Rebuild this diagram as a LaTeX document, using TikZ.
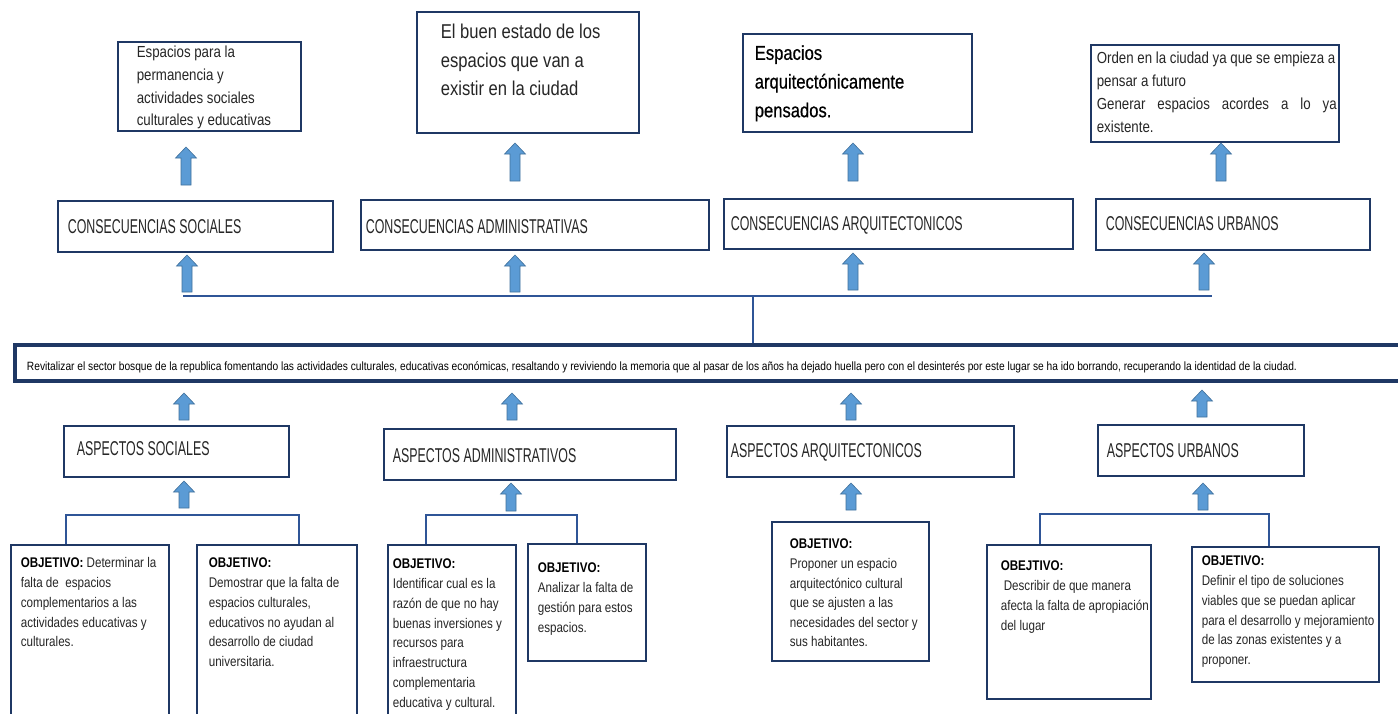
\documentclass[tikz,border=0pt]{standalone}
\usepackage{fontspec}
\usepackage{graphicx}
\setmainfont{Liberation Sans}
\newfontfamily\lowf[FakeStretch=0.83]{Liberation Sans}
\newfontfamily\semif[FakeStretch=0.83,FakeBold=0.6]{Liberation Sans}
\newfontfamily\capf[FakeStretch=0.62]{Liberation Sans}
\usetikzlibrary{calc}
\definecolor{navy}{HTML}{1F3864}
\definecolor{linkc}{HTML}{2F5597}
\definecolor{arrf}{HTML}{5B9BD5}
\definecolor{arrl}{HTML}{41719C}
\definecolor{txt}{HTML}{262626}
% width, height, left pad, first baseline, font, text
\newcommand\bxt[6]{\parbox[t][#2][t]{#1}{#5\leftskip=#3\relax\rightskip=2pt\relax\parindent=0pt\rule{0pt}{#4}#6}}
\newcommand\titlef{\capf\fontsize{20}{24}\selectfont}
\newcommand\objf{\lowf\fontsize{14}{19.75}\selectfont}
\newcommand\uparr[2]{\path[barrow] let \p1=(#1), \p2=(#2) in
  (\x1-5pt,\y1) -- (\x1-5pt,\y2-11pt) -- (\x1-10.5pt,\y2-11pt) -- (\x1,\y2)
  -- (\x1+10.5pt,\y2-11pt) -- (\x1+5pt,\y2-11pt) -- (\x1+5pt,\y1) -- cycle;}
\tikzset{
  box/.style={draw=navy, line width=1.6pt, inner sep=0pt, anchor=north west, text=txt},
  mainbox/.style={box, line width=4pt},
  link/.style={draw=linkc, line width=1.3pt},
  barrow/.style={fill=arrf, draw=arrl, line width=0.6pt},
}
\begin{document}
\begin{tikzpicture}[x=1pt,y=-1pt]
\useasboundingbox[fill=white] (0,0) rectangle (1398,713);

% top result boxes
\node[box] (T1) at (117,41) {\bxt{183pt}{89pt}{19pt}{16pt}{\lowf\fontsize{16}{22.7}\selectfont}{Espacios para la\\permanencia y\\actividades sociales\\culturales y educativas}};
\node[box] (T2) at (416,11) {\bxt{222pt}{121pt}{24pt}{27pt}{\lowf\fontsize{20}{28.3}\selectfont}{El buen estado de los\\espacios que van a\\existir en la ciudad}};
\node[box] (T3) at (742,33) {\bxt{229pt}{98pt}{12pt}{26pt}{\semif\fontsize{20}{28.7}\selectfont\color{black}}{Espacios\\arquitectónicamente\\pensados.}};
\node[box] (T4) at (1090,44) {\bxt{248pt}{97pt}{6pt}{19pt}{\lowf\fontsize{16}{22.8}\selectfont}{Orden en la ciudad ya que se empieza a\\pensar a futuro\\Generar espacios acordes a lo ya\linebreak existente.}};

% consecuencias
\node[box] (C1) at (57,200) {\bxt{275pt}{51pt}{10pt}{33pt}{\titlef}{CONSECUENCIAS SOCIALES}};
\node[box] (C2) at (360,199) {\bxt{348pt}{50pt}{5pt}{34pt}{\titlef}{CONSECUENCIAS ADMINISTRATIVAS}};
\node[box] (C3) at (723,198) {\bxt{349pt}{50pt}{7pt}{32pt}{\titlef}{CONSECUENCIAS ARQUITECTONICOS}};
\node[box] (C4) at (1095,198) {\bxt{274pt}{51pt}{10pt}{32pt}{\titlef}{CONSECUENCIAS URBANOS}};

% main objective
\node[mainbox] (M) at (13,343) {\bxt{1392pt}{36pt}{12pt}{25pt}{\lowf\fontsize{12}{14}\selectfont\color{black}}{\resizebox{1270pt}{\height}{Revitalizar el sector bosque de la republica fomentando las actividades culturales, educativas económicas, resaltando y reviviendo la memoria que al pasar de los años ha dejado huella pero con el desinterés por este lugar se ha ido borrando, recuperando la identidad de la ciudad.}}};

% aspectos
\node[box] (A1) at (63,425) {\bxt{225pt}{51pt}{13pt}{30pt}{\titlef}{ASPECTOS SOCIALES}};
\node[box] (A2) at (383,428) {\bxt{292pt}{51pt}{9pt}{34pt}{\titlef}{ASPECTOS ADMINISTRATIVOS}};
\node[box] (A3) at (726,425) {\bxt{287pt}{51pt}{4pt}{32pt}{\titlef}{ASPECTOS ARQUITECTONICOS}};
\node[box] (A4) at (1097,424) {\bxt{206pt}{51pt}{9pt}{33pt}{\titlef}{ASPECTOS URBANOS}};

% objectives
\node[box] (O1) at (10,544) {\bxt{158pt}{180pt}{10pt}{23pt}{\objf}{{\bfseries\color{black}OBJETIVO:} Determinar la\\falta de\ \ espacios\\complementarios a las\\actividades educativas y\\culturales.}};
\node[box] (O2) at (196,544) {\bxt{160pt}{180pt}{12pt}{23pt}{\objf}{{\bfseries\color{black}OBJETIVO:}\\Demostrar que la falta de\\espacios culturales,\\educativos no ayudan al\\desarrollo de ciudad\\universitaria.}};
\node[box] (O3) at (387,544) {\bxt{128pt}{180pt}{5pt}{24pt}{\objf}{{\bfseries\color{black}OBJETIVO:}\\Identificar cual es la\\razón de que no hay\\buenas inversiones y\\recursos para\\infraestructura\\complementaria\\educativa y cultural.}};
\node[box] (O4) at (527,543) {\bxt{118pt}{117pt}{10pt}{29pt}{\objf}{{\bfseries\color{black}OBJETIVO:}\\Analizar la falta de\\gestión para estos\\espacios.}};
\node[box] (O5) at (771,521) {\bxt{157pt}{139pt}{18pt}{27pt}{\lowf\fontsize{14}{19.6}\selectfont}{{\bfseries\color{black}OBJETIVO:}\\Proponer un espacio\\arquitectónico cultural\\que se ajusten a las\\necesidades del sector y\\sus habitantes.}};
\node[box] (O6) at (986,544) {\bxt{164pt}{154pt}{14pt}{26pt}{\lowf\fontsize{14}{19.9}\selectfont}{{\bfseries\color{black}OBEJTIVO:}\\\hspace*{3pt}Describir de que manera\\afecta la falta de apropiación\\del lugar}};
\node[box] (O7) at (1191,546) {\bxt{187pt}{135pt}{10pt}{19pt}{\objf}{{\bfseries\color{black}OBJETIVO:}\\Definir el tipo de soluciones\\viables que se puedan aplicar\\para el desarrollo y mejoramiento\\de las zonas existentes y a\\proponer.}};

% bus connecting main objective to consequences
\coordinate (busL) at (183,296);
\coordinate (busR) at (1212,296);
\coordinate (hub) at (753,296);
\draw[link] (busL) -- (busR);
\draw[link] (hub) -- (hub |- M.north);

% brackets below aspects
\coordinate (sL) at (66,515);  \coordinate (sR) at (299,515);
\coordinate (dL) at (426,515); \coordinate (dR) at (577,515);
\coordinate (uL) at (1040,514); \coordinate (uR) at (1269,514);
\draw[link] (sL |- O1.north) -- (sL) -- (sR) -- (sR |- O2.north);
\draw[link] (dL |- O3.north) -- (dL) -- (dR) -- (dR |- O4.north);
\draw[link] (uL |- O6.north) -- (uL) -- (uR) -- (uR |- O7.north);

% block arrows: consequences -> results
\coordinate (r1b) at (186,185); \coordinate (r1t) at (186,147);
\coordinate (r2b) at (515,181); \coordinate (r2t) at (515,143);
\coordinate (r3b) at (853,181); \coordinate (r3t) at (853,143);
\coordinate (r4b) at (1221,181); \coordinate (r4t) at (1221,143);
\uparr{r1b}{r1t}\uparr{r2b}{r2t}\uparr{r3b}{r3t}\uparr{r4b}{r4t}
% bus -> consequences
\coordinate (c1b) at (187,292); \coordinate (c1t) at (187,255);
\coordinate (c2b) at (515,292); \coordinate (c2t) at (515,255);
\coordinate (c3b) at (853,290); \coordinate (c3t) at (853,253);
\coordinate (c4b) at (1204,290); \coordinate (c4t) at (1204,253);
\uparr{c1b}{c1t}\uparr{c2b}{c2t}\uparr{c3b}{c3t}\uparr{c4b}{c4t}
% aspects -> main
\coordinate (m1b) at (184,420); \coordinate (m1t) at (184,393);
\coordinate (m2b) at (512,420); \coordinate (m2t) at (512,393);
\coordinate (m3b) at (851,420); \coordinate (m3t) at (851,393);
\coordinate (m4b) at (1202,417); \coordinate (m4t) at (1202,390);
\uparr{m1b}{m1t}\uparr{m2b}{m2t}\uparr{m3b}{m3t}\uparr{m4b}{m4t}
% objectives -> aspects
\coordinate (a1b) at (184,508); \coordinate (a1t) at (184,481);
\coordinate (a2b) at (511,511); \coordinate (a2t) at (511,483);
\coordinate (a3b) at (851,510); \coordinate (a3t) at (851,483);
\coordinate (a4b) at (1203,510); \coordinate (a4t) at (1203,483);
\uparr{a1b}{a1t}\uparr{a2b}{a2t}\uparr{a3b}{a3t}\uparr{a4b}{a4t}
\end{tikzpicture}
\end{document}
